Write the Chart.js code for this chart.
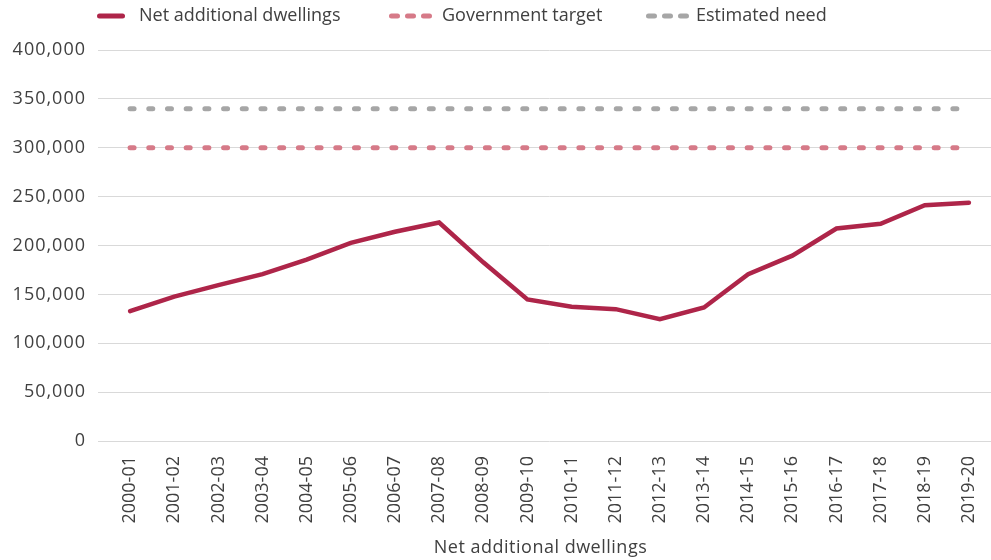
<!DOCTYPE html>
<html>
<head>
<meta charset="utf-8">
<script src="https://cdn.jsdelivr.net/npm/chart.js@4"></script>
<style>
  html, body { margin: 0; padding: 0; background: #ffffff; }
  #wrap { width: 991px; height: 560px; position: relative; }
</style>
</head>
<body>
<div id="wrap"><canvas id="c" width="991" height="560"></canvas></div>
<script>
const categories = ["2000-01","2001-02","2002-03","2003-04","2004-05","2005-06","2006-07","2007-08","2008-09","2009-10","2010-11","2011-12","2012-13","2013-14","2014-15","2015-16","2016-17","2017-18","2018-19","2019-20"];
const netAdditionalDwellings = [132870,147680,159420,170660,185550,202650,214000,223530,182770,144870,137390,134900,124720,136610,170690,189650,217350,222190,241130,243770];
const governmentTarget = [300000,300000,300000,300000,300000,300000,300000,300000,300000,300000,300000,300000,300000,300000,300000,300000,300000,300000,300000,300000];
const estimatedNeed = [340000,340000,340000,340000,340000,340000,340000,340000,340000,340000,340000,340000,340000,340000,340000,340000,340000,340000,340000,340000];
const yTicks = [0,50000,100000,150000,200000,250000,300000,350000,400000];
const seriesNames = ["Net additional dwellings","Government target","Estimated need"];
const axisTitle = "Net additional dwellings";

const RED = "#ae2549";
const PINK = "#d67a88";
const GREY = "#a6a6a6";
const TEXT = "#404040";
const FONT = "'Open Sans', 'Noto Sans', sans-serif";

// custom legend drawn on the canvas
const customLegend = {
  id: 'customLegend',
  afterDraw(chart) {
    const ctx = chart.ctx;
    const y = 16;
    ctx.save();
    ctx.lineCap = 'round';
    ctx.strokeStyle = chart.data.datasets[0].borderColor;
    ctx.lineWidth = 5;
    ctx.setLineDash([]);
    ctx.beginPath(); ctx.moveTo(99.5, y); ctx.lineTo(122.5, y); ctx.stroke();
    ctx.strokeStyle = chart.data.datasets[1].borderColor;
    ctx.setLineDash([6, 10]);
    ctx.beginPath(); ctx.moveTo(391.5, y); ctx.lineTo(430, y); ctx.stroke();
    ctx.strokeStyle = chart.data.datasets[2].borderColor;
    ctx.beginPath(); ctx.moveTo(648.5, y); ctx.lineTo(687, y); ctx.stroke();
    ctx.setLineDash([]);
    ctx.fillStyle = TEXT;
    ctx.font = "18px " + FONT;
    ctx.textBaseline = 'middle';
    ctx.textAlign = 'left';
    ctx.fillText(chart.data.datasets[0].label, 139, y);
    ctx.fillText(chart.data.datasets[1].label, 442, y);
    ctx.fillText(chart.data.datasets[2].label, 696, y);
    ctx.restore();
  }
};

const scalePatches = {
  id: 'scalePatches',
  afterLayout(chart) {
    const s = chart.scales.y;
    if (s && !s._spaced) {
      const orig = s.drawLabels;
      s.drawLabels = function (area) {
        const c = this.ctx;
        c.save();
        c.letterSpacing = '1px';
        orig.call(this, area);
        c.restore();
      };
      s._spaced = true;
    }
    const x = chart.scales.x;
    if (x && !x._shifted) {
      const origT = x.drawTitle;
      x.drawTitle = function (area) {
        const c = this.ctx;
        c.save();
        c.translate(-9, 0);
        c.letterSpacing = '0.5px';
        origT.call(this, area);
        c.restore();
      };
      x._shifted = true;
    }
  }
};

new Chart(document.getElementById('c'), {
  type: 'line',
  data: {
    labels: categories,
    datasets: [
      {
        label: seriesNames[0],
        data: netAdditionalDwellings,
        borderColor: RED,
        backgroundColor: RED,
        borderWidth: 4.5,
        borderCapStyle: 'round',
        borderJoinStyle: 'miter',
        pointRadius: 0,
        tension: 0,
        order: 0
      },
      {
        label: seriesNames[1],
        data: governmentTarget,
        borderColor: PINK,
        backgroundColor: PINK,
        borderWidth: 5,
        borderDash: [4, 14.7],
        borderCapStyle: 'round',
        pointRadius: 0,
        order: 1
      },
      {
        label: seriesNames[2],
        data: estimatedNeed,
        borderColor: GREY,
        backgroundColor: GREY,
        borderWidth: 5,
        borderDash: [4, 14.7],
        borderCapStyle: 'round',
        pointRadius: 0,
        order: 2
      }
    ]
  },
  options: {
    responsive: false,
    animation: false,
    devicePixelRatio: 1,
    layout: { padding: { top: 50, right: 0, bottom: 0, left: 0 } },
    plugins: {
      legend: { display: false },
      tooltip: { enabled: false }
    },
    scales: {
      x: {
        offset: true,
        grid: { display: false, drawTicks: false },
        border: { display: false },
        ticks: {
          autoSkip: false,
          minRotation: 90,
          maxRotation: 90,
          padding: 15,
          color: TEXT,
          font: { family: FONT, size: 18 }
        },
        title: {
          display: true,
          text: axisTitle,
          color: TEXT,
          font: { family: FONT, size: 18 },
          padding: { top: 0, bottom: 1 }
        },
        afterFit(scale) {
          scale.height = 119;
          scale.paddingRight = 0;
          scale.paddingLeft = 0;
        }
      },
      y: {
        min: 0,
        max: 400000,
        afterBuildTicks(scale) { scale.ticks = yTicks.map(v => ({ value: v })); },
        grid: { color: '#d9d9d9', lineWidth: 1, tickLength: 10, drawTicks: true },
        border: { display: false },
        ticks: {
          padding: 12,
          color: TEXT,
          font: { family: FONT, size: 18 },
          callback: (v) => v.toLocaleString('en-US')
        },
        afterFit(scale) { scale.width = 108; }
      }
    }
  },
  plugins: [customLegend, scalePatches]
});
</script>
</body>
</html>
